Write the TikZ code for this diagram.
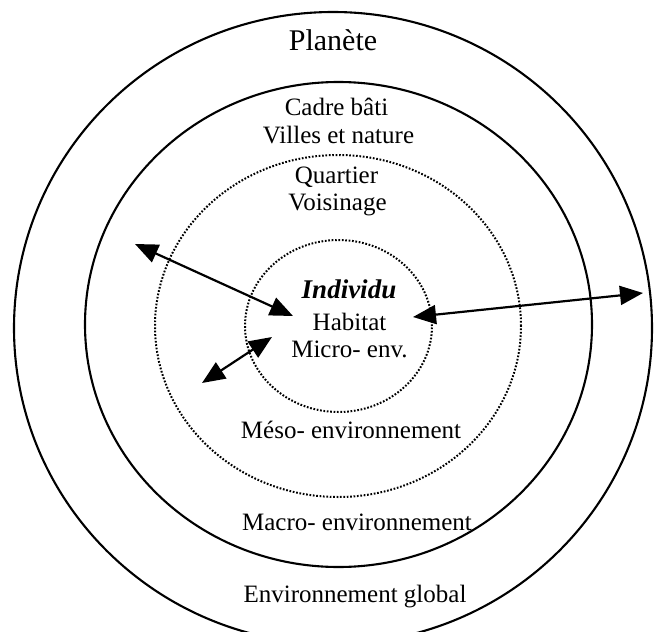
\documentclass[tikz,border=0pt]{standalone}
\usepackage{fontspec}
\setmainfont{Liberation Serif}
\usetikzlibrary{arrows.meta}
\begin{document}
\begin{tikzpicture}[x=1pt,y=-1pt,
  ring/.style={line width=2.1pt},
  dotring/.style={line width=2pt, dash pattern=on 1.7pt off 1.7pt},
  lbl/.style={anchor=base, inner sep=0pt, font=\fontsize{25}{30}\selectfont},
  bigtip/.tip={Triangle[length=23pt,width=19pt]},
  link/.style={line width=2.2pt, bigtip-bigtip}]
% page area
\fill[white] (0,0) rectangle (654,632);
\useasboundingbox (0,0) rectangle (654,632);

% nested environments
\draw[ring] (333,328) ellipse [x radius=319pt, y radius=316pt];
\draw[ring] (338.5,324.5) ellipse [x radius=253.5pt, y radius=242.5pt];
\draw[dotring] (338,326) ellipse [x radius=183pt, y radius=171pt];
\draw[dotring] (338.5,326) ellipse [x radius=93.5pt, y radius=86pt];

% labels
\node[lbl, font=\fontsize{30}{36}\selectfont] (planete) at (333,50) {Planète};
\node[lbl] (cadre) at (336.5,115) {Cadre bâti};
\node[lbl] (villes) at (338.5,143) {Villes et nature};
\node[lbl] (quartier) at (336.5,183) {Quartier};
\node[lbl] (voisinage) at (337.5,210) {Voisinage};
\node[lbl, font=\fontsize{27}{32}\selectfont\bfseries\itshape] (individu) at (349,298) {Individu};
\node[lbl] (habitat) at (349.5,330) {Habitat};
\node[lbl] (micro) at (349.5,357) {Micro- env.};
\node[lbl] (meso) at (351,438) {Méso- environnement};
\node[lbl] (macro) at (357,530) {Macro- environnement};
\node[lbl] (global) at (355,602) {Environnement global};

% interaction arrows
\coordinate (aOut) at (135,244);
\coordinate (aIn) at (293,316);
\coordinate (bIn) at (272,337);
\coordinate (bOut) at (202,383);
\coordinate (cIn) at (413,317);
\coordinate (cOut) at (643,293);
\draw[link] (aOut) -- (aIn);
\draw[link] (bIn) -- (bOut);
\draw[link] (cIn) -- (cOut);
\end{tikzpicture}
\end{document}
